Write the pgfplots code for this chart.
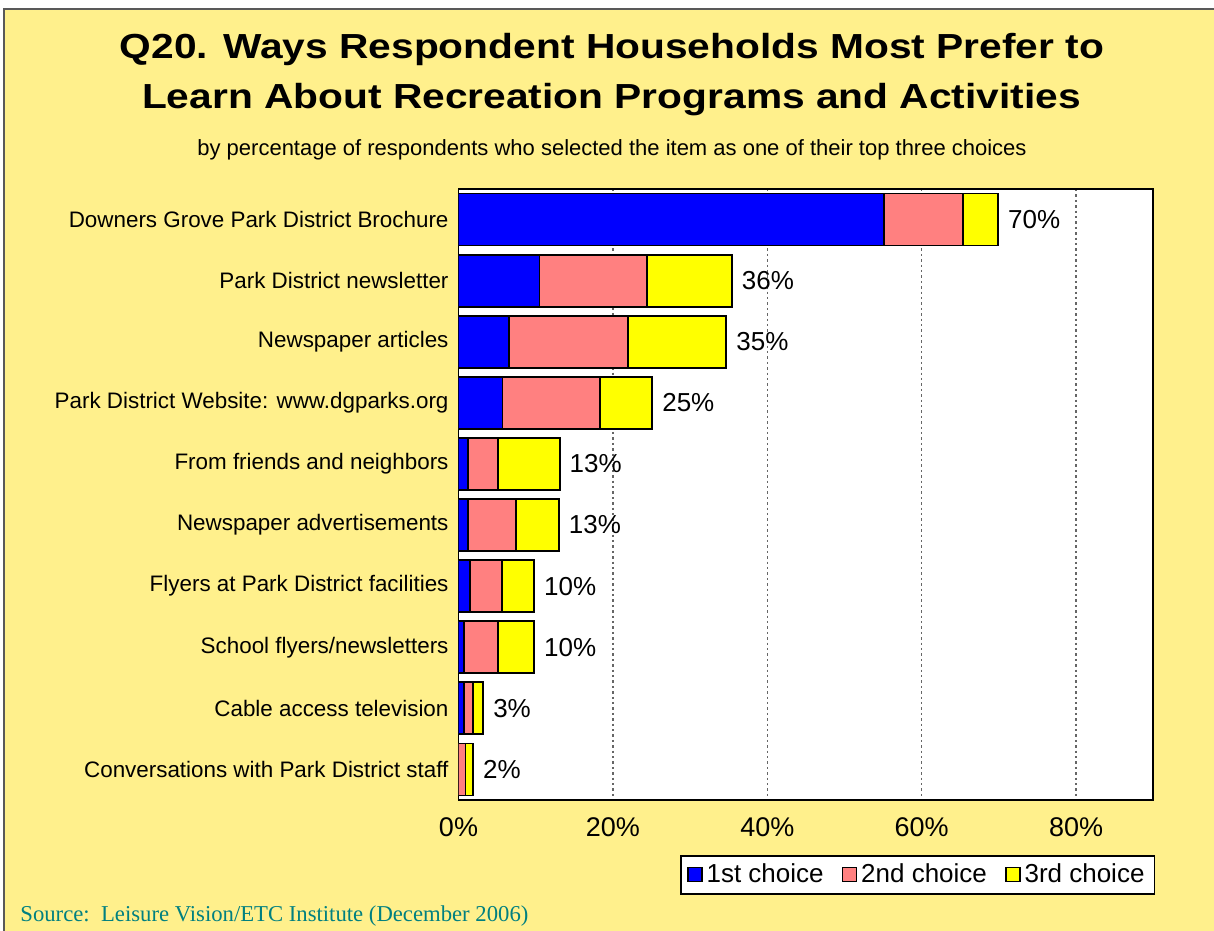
\documentclass[border=0pt]{standalone}
\usepackage{fontspec}
\setmainfont{Liberation Sans}
\newfontfamily\titlefont[FakeStretch=1.17]{Liberation Sans}
\newfontfamily\srcfont{Liberation Serif}
\usepackage{pgfplots}
\pgfplotsset{compat=1.18}
\definecolor{bg}{RGB}{255,240,140}
\definecolor{cfirst}{RGB}{0,0,255}
\definecolor{csecond}{RGB}{255,128,128}
\definecolor{cthird}{RGB}{255,255,0}
\definecolor{srccol}{RGB}{0,128,128}
\newcommand{\fs}[1]{\fontsize{#1}{1.2\dimexpr#1\relax}\selectfont}
\pgfplotsset{
    frame/.style={
        at={(229.25bp,65.5bp)}, anchor=south west,
        scale only axis, width=347.4bp, height=305.5bp,
        xmin=0, xmax=90, ymin=-0.5, ymax=9.5, y dir=reverse,
    },
}

\begin{document}
\begin{tikzpicture}[x=1bp,y=1bp]
\useasboundingbox (0,0) rectangle (607,465.5);
\fill[white] (0,0) rectangle (607,465.5);
\fill[bg] (2,0) rectangle (607,461);
\draw[gray!70!black, line width=0.6bp] (2,0) -- (2,461) -- (607,461);

% titles
\node[anchor=base, inner sep=0] at (306,436) {\titlefont\bfseries\fs{17.4bp}Q20. Ways Respondent Households Most Prefer to};
\node[anchor=base, inner sep=0] at (305.75,411) {\titlefont\bfseries\fs{17.4bp}Learn About Recreation Programs and Activities};
\node[anchor=base, inner sep=0] at (306,387.5) {\fs{11bp}by percentage of respondents who selected the item as one of their top three choices};
\node[anchor=base west, inner sep=0, text=srccol] at (10,4.5) {\srcfont\fs{11.35bp}Source:\ \ Leisure Vision/ETC Institute (December 2006)};

\begin{axis}[
    frame,
    xbar stacked, bar width=26bp,
    axis background/.style={fill=white},
    axis line style={black, line width=0.9bp},
    xtick={0,20,40,60,80},
    xticklabel={\pgfmathprintnumber{\tick}\%},
    xticklabel style={font=\fs{13.5bp}, yshift=-5.5bp},
    /pgf/number format/assume math mode=true,
    ytick={0,...,9},
    yticklabels={Downers Grove Park District Brochure, Park District newsletter, Newspaper articles, Park District Website: www.dgparks.org, From friends and neighbors, Newspaper advertisements, Flyers at Park District facilities, School flyers/newsletters, Cable access television, Conversations with Park District staff},
    yticklabel style={font=\fs{11.2bp}, xshift=-1.5bp},
    major tick length=0pt,
    xmajorgrids,
    grid style={black!60, dash pattern=on 1.2bp off 1.5bp, line width=0.7bp},
    legend columns=3,
    legend style={at={(1.003,-0.09)}, anchor=north east, draw=black, line width=0.9bp,
        font=\fs{13bp}, inner xsep=3bp, inner ysep=2bp,
        /tikz/every even column/.append style={column sep=7bp}},
    legend image code/.code={\draw[#1, draw=black, line width=0.8bp] (0bp,-3.3bp) rectangle (7bp,3.7bp);},
    every axis plot/.append style={draw=black, line width=0.9bp},
]
\addplot[fill=cfirst] coordinates {
    (55.1,0) (10.5,1) (6.5,2) (5.7,3) (1.2,4) (1.2,5) (1.5,6) (0.7,7) (0.7,8) (0,9)};
\addplot[fill=csecond] coordinates {
    (10.2,0) (13.9,1) (15.5,2) (12.6,3) (3.9,4) (6.2,5) (4.1,6) (4.4,7) (1.2,8) (0.9,9)};
\addplot[fill=cthird] coordinates {
    (4.6,0) (11.0,1) (12.7,2) (6.8,3) (8.0,4) (5.6,5) (4.2,6) (4.7,7) (1.3,8) (1.0,9)};
\legend{1st choice, 2nd choice, 3rd choice}
\end{axis}

% totals at the end of each bar
\begin{axis}[frame, hide axis]
\addplot[only marks, mark=*, mark size=0pt, draw=none, fill=none,
    point meta=explicit symbolic,
    nodes near coords={\pgfplotspointmeta},
    nodes near coords style={anchor=west, font=\fs{13bp}, xshift=1.5bp, text=black}]
    coordinates {
    (69.9,0) [70\%] (35.4,1) [36\%] (34.7,2) [35\%] (25.1,3) [25\%] (13.1,4) [13\%]
    (13.0,5) [13\%] (9.8,6) [10\%] (9.8,7) [10\%] (3.2,8) [3\%] (1.9,9) [2\%]};
\end{axis}
\end{tikzpicture}
\end{document}
